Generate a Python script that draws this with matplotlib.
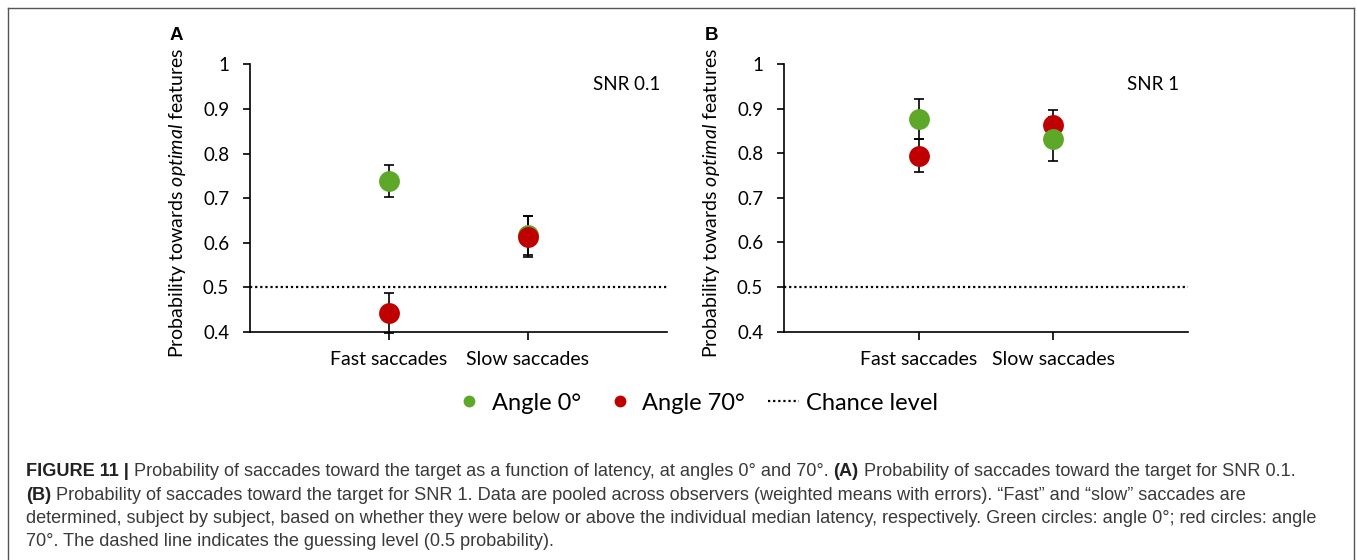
import matplotlib
matplotlib.use("Agg")
import matplotlib.pyplot as plt
from matplotlib.lines import Line2D
from matplotlib.legend_handler import HandlerLine2D

plt.rcParams['font.family'] = ['Lato', 'DejaVu Sans']
plt.rcParams['mathtext.fontset'] = 'custom'
plt.rcParams['mathtext.it'] = 'Lato:italic'
plt.rcParams['mathtext.rm'] = 'Lato'

# data
categories = ["Fast saccades", "Slow saccades"]
cat_pos = [1, 2]

snr01_angle0 = [0.738, 0.617]
snr01_angle0_err = [0.036, 0.044]
snr01_angle70 = [0.442, 0.614]
snr01_angle70_err = [0.045, 0.045]

snr1_angle0 = [0.877, 0.832]
snr1_angle0_err = [0.044, 0.049]
snr1_angle70 = [0.794, 0.863]
snr1_angle70_err = [0.037, 0.035]

chance_level = 0.5
yticks = [0.4, 0.5, 0.6, 0.7, 0.8, 0.9, 1.0]
ytick_labels = ["0.4", "0.5", "0.6", "0.7", "0.8", "0.9", "1"]

panel_letters = ["A", "B"]
panel_titles = ["SNR 0.1", "SNR 1"]
series_labels = ["Angle 0°", "Angle 70°", "Chance level"]

caption_lines = [
    [("FIGURE 11 |", "bold"),
     (" Probability of saccades toward the target as a function of latency, at angles 0° and 70°. ", "normal"),
     ("(A)", "bold"),
     (" Probability of saccades toward the target for SNR 0.1.", "normal")],
    [("(B)", "bold"),
     (" Probability of saccades toward the target for SNR 1. Data are pooled across observers (weighted means with errors). “Fast” and “slow” saccades are", "normal")],
    [("determined, subject by subject, based on whether they were below or above the individual median latency, respectively. Green circles: angle 0°; red circles: angle", "normal")],
    [("70°. The dashed line indicates the guessing level (0.5 probability).", "normal")],
]

GREEN = "#5ea829"
RED = "#c00000"

W, H = 1357, 560
fig = plt.figure(figsize=(W / 100, H / 100), dpi=100)

# axes boxes in pixels: left, top(y=1), right, bottom(y=0.4)
boxes = [(250, 64.3, 667, 332), (784, 64, 1188, 331.7)]
letter_x = [176, 711]
ylabel_x = [178, 711]
title_right = [660, 1179]

panels = [
    (snr01_angle0, snr01_angle0_err, snr01_angle70, snr01_angle70_err, False),
    (snr1_angle0, snr1_angle0_err, snr1_angle70, snr1_angle70_err, True),
]

for i, (g, ge, r, re_, green_on_top) in enumerate(panels):
    l, t, rgt, b = boxes[i]
    ax = fig.add_axes([l / W, 1 - b / H, (rgt - l) / W, (b - t) / H])
    ax.set_xlim(0, 3)
    ax.set_ylim(0.4, 1.0)

    ax.axhline(chance_level, color="black", lw=1.6, ls=(0, (1, 1.3)), zorder=1)

    gz, rz = (4, 3) if green_on_top else (3, 4)
    ax.errorbar(cat_pos, g, yerr=ge, fmt="none", ecolor="black", elinewidth=1.2,
                capsize=3.3, capthick=1.2, zorder=2, clip_on=False)
    ax.errorbar(cat_pos, r, yerr=re_, fmt="none", ecolor="black", elinewidth=1.2,
                capsize=3.3, capthick=1.2, zorder=2, clip_on=False)
    ax.plot(cat_pos, g, "o", color=GREEN, ms=15, mec="none", zorder=gz, clip_on=False)
    ax.plot(cat_pos, r, "o", color=RED, ms=15, mec="none", zorder=rz, clip_on=False)

    for s in ["top", "right"]:
        ax.spines[s].set_visible(False)
    for s in ["left", "bottom"]:
        ax.spines[s].set_linewidth(1.2)
        ax.spines[s].set_zorder(5)

    ax.set_yticks(yticks)
    ax.set_yticklabels(ytick_labels, fontsize=13.5)
    ax.set_xticks(cat_pos)
    ax.set_xticklabels(categories, fontsize=14)
    ax.tick_params(axis="y", direction="out", length=5, width=1.2, pad=10)
    ax.tick_params(axis="x", direction="out", length=6, width=1.2, pad=8)

    ax.text(title_right[i] / W, 1 - 85 / H, panel_titles[i], transform=fig.transFigure,
            ha="right", va="center", fontsize=13.5)
    fig.text(letter_x[i] / W, 1 - 35 / H, panel_letters[i], ha="center", va="center",
             fontsize=13.5, fontweight="bold", family=["Liberation Sans", "DejaVu Sans"])
    fig.text(ylabel_x[i] / W, 1 - 202.5 / H, r"Probability towards $\mathit{optimal}$ features",
             rotation=90, ha="center", va="center", fontsize=14)


class MarkerRight(HandlerLine2D):
    # put the legend marker close to its label, like the original
    def get_xdata(self, legend, xdescent, ydescent, width, height, fontsize):
        xd, xm = super().get_xdata(legend, xdescent, ydescent, width, height, fontsize)
        return xd, [width - xdescent - 1]


handles = [
    Line2D([], [], ls="none", marker="o", color=GREEN, ms=8.5, mec="none"),
    Line2D([], [], ls="none", marker="o", color=RED, ms=8.5, mec="none"),
    Line2D([], [], color="black", lw=1.6, ls=(0, (1, 1.3))),
]
fig.legend(handles, series_labels, loc="center", bbox_to_anchor=(696 / W, 1 - 403 / H),
           ncol=3, frameon=False, fontsize=17, handlelength=1.3, handletextpad=0.3,
           columnspacing=1.0,
           handler_map={handles[0]: MarkerRight(), handles[1]: MarkerRight()})

# frame around the figure
fc = "#555555"
fig.add_artist(Line2D([7.5 / W, 7.5 / W], [0, 1 - 8 / H], color=fc, lw=1, transform=fig.transFigure))
fig.add_artist(Line2D([7.5 / W, 1354 / W], [1 - 8 / H, 1 - 8 / H], color=fc, lw=1, transform=fig.transFigure))
fig.add_artist(Line2D([1354 / W, 1354 / W], [0, 1 - 8 / H], color=fc, lw=1, transform=fig.transFigure))

# caption, laid out segment by segment
renderer = fig.canvas.get_renderer()
cap_family = ["Liberation Sans", "DejaVu Sans"]


def draw_line(segs, x0, y, fs):
    x = x0
    made = []
    for txt, weight in segs:
        t = fig.text(x / W, 1 - y / H, txt, fontsize=fs, fontweight=weight,
                     family=cap_family, va="baseline", ha="left",
                     color="#222222" if weight == "bold" else "#3a3a3a")
        bb = t.get_window_extent(renderer)
        x = bb.x1
        made.append(t)
    return x, made


end, tmp = draw_line(caption_lines[0], 26, 480, 10)
for t in tmp:
    t.remove()
cap_fs = 10 * (1302 - 26) / (end - 26)

baselines = [476, 499.5, 523, 546.5]
for segs, yb in zip(caption_lines, baselines):
    draw_line(segs, 26, yb, cap_fs)

fig.savefig("out.png", dpi=100)
